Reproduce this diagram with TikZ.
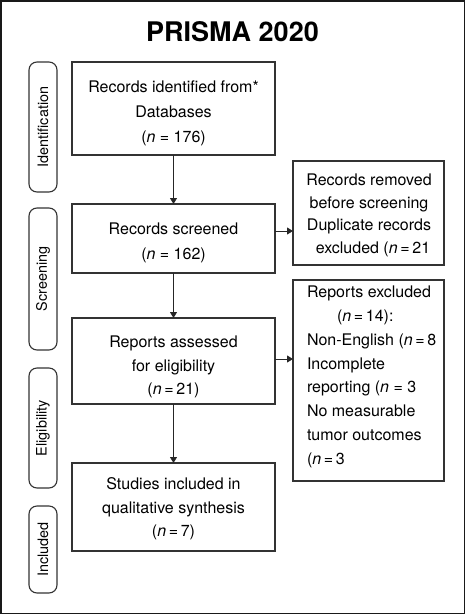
\documentclass[tikz,border=0pt]{standalone}
\usepackage{fontspec}
\setmainfont{TeX Gyre Heros}
\usetikzlibrary{arrows.meta}
\begin{document}
\begin{tikzpicture}[x=1pt,y=-1pt,
  every node/.style={inner sep=0pt, outer sep=0pt},
  mainbox/.style={draw=black!80, line width=1.1pt, minimum width=203pt, anchor=north west},
  sidebox/.style={draw=black!80, line width=1.1pt, anchor=north west},
  phase/.style={draw=black!80, line width=1.1pt, rounded corners=8pt, anchor=north west, minimum width=28pt},
  phasetext/.style={rotate=90, font=\fontsize{14.4}{16}\selectfont},
  txt/.style={font=\fontsize{16}{25}\selectfont, align=center},
  ltxt/.style={font=\fontsize{16}{25}\selectfont, align=left, anchor=north west},
  arr/.style={draw=black!85, line width=0.9pt, -{Triangle[length=6pt,width=7pt]}}]
\useasboundingbox (0,0) rectangle (465,614);
\draw[black!90, line width=1.5pt] (0.75,0.75) rectangle (464.25,613.25);
\node[font=\fontsize{27}{30}\selectfont\bfseries] (title) at (232.5,32) {PRISMA 2020};
% phase labels
\node[phase, minimum height=130pt] (pid) at (29,62) {};
\node[phasetext] at (pid.center) {Identification};
\node[phase, minimum height=142pt] (psc) at (29,208) {};
\node[phasetext] at (psc.center) {Screening};
\node[phase, minimum height=120pt] (pel) at (29,368) {};
\node[phasetext] at (pel.center) {Eligibility};
\node[phase, minimum height=87pt] (pin) at (29,506) {};
\node[phasetext] at (pin.center) {Included};
% main boxes
\node[mainbox, minimum height=93pt] (b1) at (72,62) {};
\node[txt] at (173.5,113) {Records identified from*\\Databases\\(\textit{n} = 176)};
\node[mainbox, minimum height=69pt] (b2) at (72,204) {};
\node[txt] at (173.5,242.5) {Records screened\\(\textit{n} = 162)};
\node[mainbox, minimum height=86pt] (b3) at (72,318) {};
\node[txt, font=\fontsize{16}{23.5}\selectfont] at (173.5,367) {Reports assessed\\for eligibility\\(\textit{n}\,=\,21)};
\node[mainbox, minimum height=88pt] (b4) at (72,463) {};
\node[txt, font=\fontsize{16}{23.5}\selectfont] at (173.5,509) {Studies included in\\qualitative synthesis\\(\textit{n}\,=\,7)};
% side boxes
\node[sidebox, minimum width=151pt, minimum height=104pt] (s1) at (293,161) {};
\node[txt, font=\fontsize{16}{22.7}\selectfont] at (369,215.5) {Records removed\\before screening\\Duplicate records\\\hspace*{8pt}excluded (\textit{n}\,=\,21};
\node[sidebox, minimum width=151pt, minimum height=201pt] (s2) at (293,280) {};
\node[ltxt, font=\fontsize{16}{23.8}\selectfont] at (307,286) {Reports excluded\\\hspace*{30pt}(\textit{n}\,=\,14):\\Non-English (\textit{n}\,=\,8\\Incomplete\\reporting (\textit{n} = 3\\No measurable\\tumor outcomes\\(\textit{n}\,=\,3};
% arrows
\draw[arr] (b1.south) -- (b2.north);
\draw[arr] (b2.south) -- (b3.north);
\draw[arr] (b3.south) -- (b4.north);
\draw[arr] (b2.east |- 0,231) -- (s1.west |- 0,231);
\draw[arr] (b3.east |- 0,359) -- (s2.west |- 0,359);
\end{tikzpicture}
\end{document}
